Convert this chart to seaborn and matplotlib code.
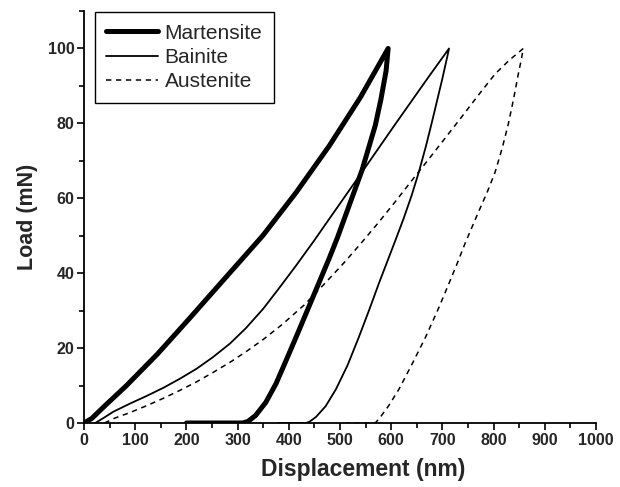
import matplotlib
matplotlib.use("Agg")
import matplotlib.pyplot as plt
from matplotlib.ticker import MultipleLocator
import pandas as pd
import seaborn as sns

# Nanoindentation load-displacement curves (loading branch followed by unloading branch)
mart_disp = [0, 15, 40, 83, 144, 200, 268, 349, 414, 479, 540, 594,
             590, 580, 569, 556, 543, 527, 511, 495, 479, 456, 436, 416, 395,
             375, 355, 335, 320, 310, 200]
mart_load = [0, 1.2, 4.5, 10, 18.5, 27, 37.5, 50, 61.5, 74, 87, 100,
             94, 86.5, 79.5, 73.5, 67.5, 61.5, 55.5, 49.5, 44, 36.5, 30, 23.5, 16.8,
             10.5, 5.5, 2, 0.4, 0, 0]

bain_disp = [22, 40, 57, 90, 122, 155, 187, 220, 251, 285, 316, 350, 381, 414, 450,
             479, 543, 608, 673, 713,
             709, 700, 690, 680, 668, 654, 640, 624, 608, 592, 576, 557, 537, 515,
             492, 472, 453, 440, 433, 380]
bain_load = [0, 1.5, 3, 5.2, 7.2, 9.4, 11.8, 14.5, 17.5, 21.2, 25.3, 30.5, 36, 42, 48.8,
             54.5, 67, 79.8, 92.4, 100,
             97.5, 92, 86.3, 80.6, 74, 67, 60.8, 54.5, 48.7, 43, 37.3, 30.2, 23, 15.5,
             9, 4.5, 1.6, 0.3, 0, 0]

aust_disp = [40, 60, 90, 122, 155, 187, 220, 252, 285, 316, 350, 387, 430, 472, 508,
             543, 575, 608, 640, 673, 705, 738, 770, 803, 830, 858,
             854, 848, 839, 829, 817, 803, 788, 770, 745, 728, 712, 693, 667, 641,
             615, 595, 580, 569, 510]
aust_load = [0, 1.3, 2.8, 4.6, 6.6, 8.7, 11, 13.5, 16.2, 19, 22.3, 26.3, 31.5, 37.5, 42.8,
             48.3, 53.5, 59.1, 64.7, 70.4, 76, 81.8, 87.5, 93.2, 96.8, 100,
             97, 93, 86.5, 80, 73.5, 67, 61.8, 56.2, 48.2, 42.3, 37, 30.8, 22.9, 15.8,
             9, 4.6, 1.8, 0, 0]

phases = ["Martensite", "Bainite", "Austenite"]
x_ticks = list(range(0, 1001, 100))
y_ticks = list(range(0, 101, 20))

sns.set_theme(style="white")
plt.rcParams["font.family"] = ["Liberation Sans", "DejaVu Sans"]

fig = plt.figure(figsize=(6.2, 4.87), dpi=100)
ax = fig.add_axes([0.1355, 0.1314, 0.8258, 0.846])

curves = [
    (mart_disp, mart_load, dict(lw=3.6, linestyle="-")),
    (bain_disp, bain_load, dict(lw=1.3, linestyle="-")),
    (aust_disp, aust_load, dict(lw=1.1, linestyle=(0, (3.5, 3.0)))),
]
for name, (xd, yd, style) in zip(phases, curves):
    df = pd.DataFrame({"Displacement": xd, "Load": yd})
    sns.lineplot(data=df, x="Displacement", y="Load", sort=False, estimator=None,
                 color="black", ax=ax, label=name, **style)

ax.set_xlim(0, 1000)
ax.set_ylim(0, 110)
ax.set_xticks(x_ticks)
ax.set_yticks(y_ticks)
ax.xaxis.set_minor_locator(MultipleLocator(50))
ax.yaxis.set_minor_locator(MultipleLocator(10))
ax.tick_params(axis="both", which="major", direction="out", length=5, width=1.2,
               color="black", labelsize=11.5, pad=2, bottom=True, left=True)
ax.tick_params(axis="both", which="minor", direction="out", length=3.5, width=1.2,
               color="black", bottom=True, left=True)
for lab in ax.get_xticklabels() + ax.get_yticklabels():
    lab.set_fontweight("bold")

for side in ["top", "right"]:
    ax.spines[side].set_visible(False)
for side in ["left", "bottom"]:
    ax.spines[side].set_color("black")
    ax.spines[side].set_linewidth(1.3)

ax.set_xlabel("Displacement (nm)", fontsize=16.5, fontweight="bold")
ax.xaxis.set_label_coords(0.545, -0.085)
ax.set_ylabel("Load (mN)", fontsize=15.5, fontweight="bold", labelpad=7)

leg = ax.legend(loc="upper left", bbox_to_anchor=(0.021, 0.997), fontsize=15,
                frameon=True, fancybox=False, framealpha=1, edgecolor="black",
                handlelength=2.5, handletextpad=0.3, labelspacing=0.25,
                borderpad=0.55, borderaxespad=0.0)
leg.get_frame().set_linewidth(1.0)

fig.savefig("out.png", dpi=100)
